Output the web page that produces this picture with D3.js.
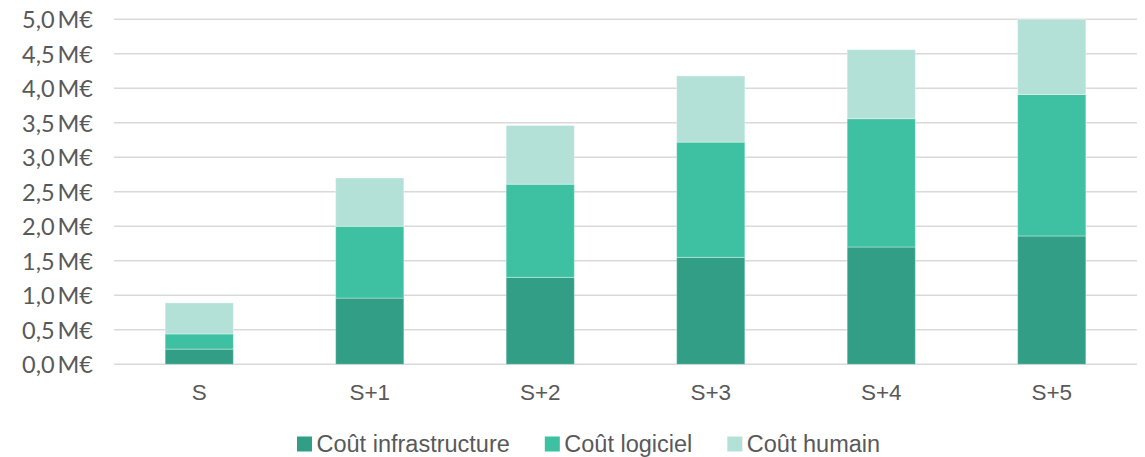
<!DOCTYPE html>
<html>
<head>
<meta charset="utf-8">
<script src="https://cdn.jsdelivr.net/npm/d3@7"></script>
<style>
  html, body { margin: 0; padding: 0; background: #ffffff; }
  svg { display: block; }
</style>
</head>
<body>
<svg id="chart" width="1145" height="457"></svg>
<script>
// Périodes et coûts (en millions d'euros)
const categories = ["S", "S+1", "S+2", "S+3", "S+4", "S+5"];
const coutInfrastructure = [0.22, 0.96, 1.26, 1.55, 1.70, 1.86];
const coutLogiciel       = [0.22, 1.04, 1.35, 1.67, 1.86, 2.05];
const coutHumain         = [0.45, 0.70, 0.85, 0.96, 1.00, 1.09];
const seriesNames = ["Coût infrastructure", "Coût logiciel", "Coût humain"];
const seriesColors = ["#329E86", "#3EC1A2", "#B3E1D7"];
const yTicks = [0, 0.5, 1, 1.5, 2, 2.5, 3, 3.5, 4, 4.5, 5];

const svg = d3.select("#chart");
const margin = { left: 114, right: 8, top: 19.3, bottom: 92.7 };
const W = 1145, H = 457;

const x = d3.scaleBand()
  .domain(categories)
  .range([margin.left, W - margin.right])
  .paddingInner(0.6)
  .paddingOuter(0.3);

const y = d3.scaleLinear()
  .domain([0, 5])
  .range([H - margin.bottom, margin.top]);

const fmt = v => d3.format(".1f")(v).replace(".", ",") + "\u2009M€";

// Grille horizontale
svg.append("g")
  .selectAll("line")
  .data(yTicks)
  .join("line")
  .attr("x1", margin.left)
  .attr("x2", W - margin.right)
  .attr("y1", d => y(d))
  .attr("y2", d => y(d))
  .attr("stroke", "#D9D9D9")
  .attr("stroke-width", 1.5);

// Axe vertical (libellés seulement)
const yAxis = d3.axisLeft(y)
  .tickValues(yTicks)
  .tickFormat(fmt)
  .tickSize(0)
  .tickPadding(0);
const gy = svg.append("g")
  .attr("transform", `translate(93,0)`)
  .call(yAxis);
gy.select(".domain").remove();
gy.selectAll("text")
  .attr("font-family", "Lato, sans-serif")
  .attr("font-size", 23.5)
  .attr("fill", "#595959")
  .attr("dy", "0.35em");

// Données empilées
const rows = categories.map((c, i) => ({
  cat: c,
  [seriesNames[0]]: coutInfrastructure[i],
  [seriesNames[1]]: coutLogiciel[i],
  [seriesNames[2]]: coutHumain[i]
}));
const stacked = d3.stack().keys(seriesNames)(rows);

svg.append("g")
  .selectAll("g")
  .data(stacked)
  .join("g")
  .attr("fill", (d, i) => seriesColors[i])
  .selectAll("rect")
  .data(d => d)
  .join("rect")
  .attr("x", d => x(d.data.cat))
  .attr("width", x.bandwidth())
  .attr("y", d => y(d[1]))
  .attr("height", d => y(d[0]) - y(d[1]))
  .attr("stroke", "#ffffff")
  .attr("stroke-opacity", 0.35)
  .attr("stroke-width", 1);

// Axe horizontal (libellés)
const xAxis = d3.axisBottom(x).tickSize(0).tickPadding(0);
const gx = svg.append("g")
  .attr("transform", `translate(0,${y(0) + 20})`)
  .call(xAxis);
gx.select(".domain").remove();
gx.selectAll("text")
  .attr("font-family", "'Liberation Sans', Arial, sans-serif")
  .attr("font-size", 22.5)
  .attr("fill", "#595959")
  .attr("dy", "0.71em");

// Légende
const legend = svg.append("g").attr("transform", "translate(297,444)");
let lx = 0;
seriesNames.forEach((name, i) => {
  const item = legend.append("g").attr("transform", `translate(${lx},0)`);
  item.append("rect")
    .attr("x", 0).attr("y", -7.5)
    .attr("width", 15).attr("height", 15)
    .attr("fill", seriesColors[i]);
  const t = item.append("text")
    .attr("x", 19.5)
    .attr("y", 0)
    .attr("dy", "0.35em")
    .attr("font-family", "'Liberation Sans', Arial, sans-serif")
    .attr("font-size", 23.5)
    .attr("fill", "#595959")
    .text(name);
  lx += 19.5 + t.node().getComputedTextLength() + 35;
});
</script>
</body>
</html>
